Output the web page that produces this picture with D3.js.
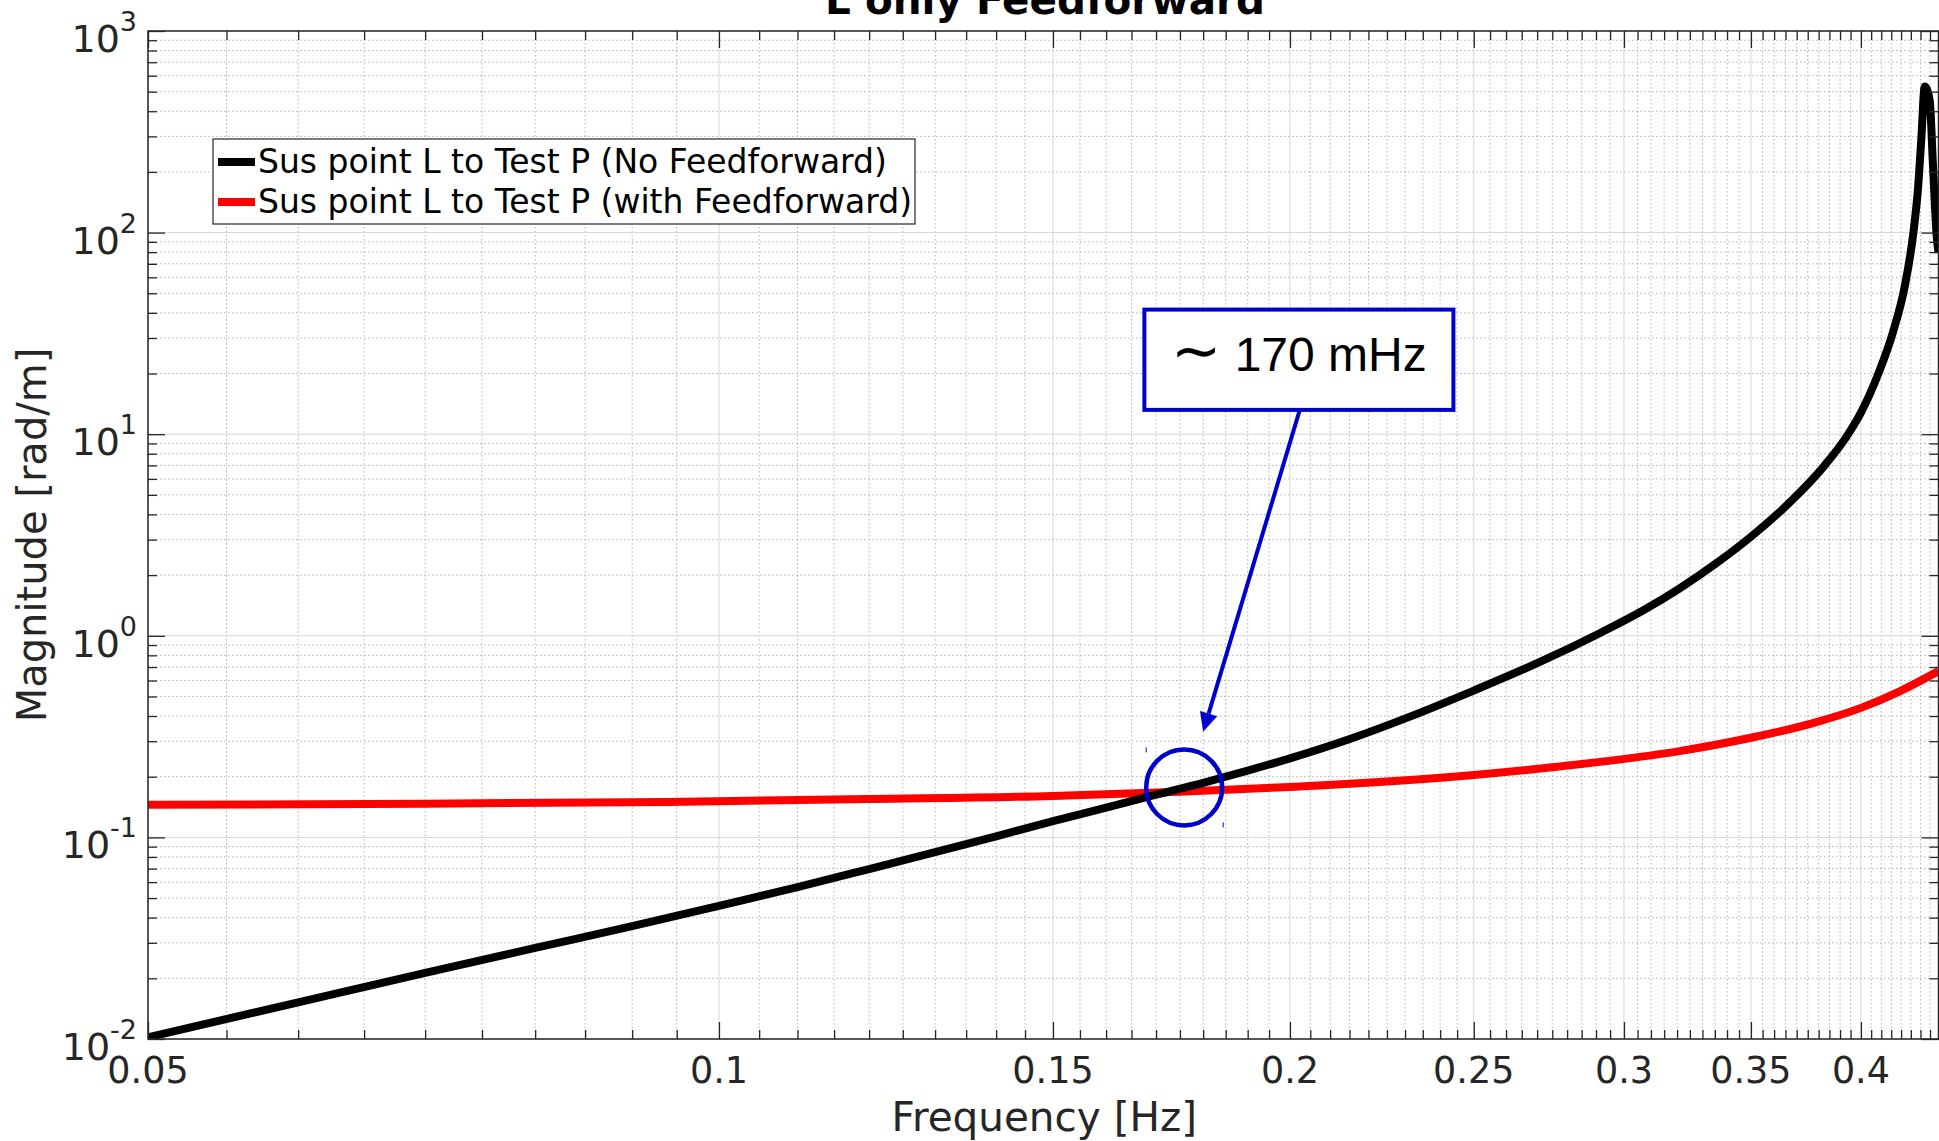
<!DOCTYPE html>
<html>
<head>
<meta charset="utf-8">
<script src="https://cdnjs.cloudflare.com/ajax/libs/d3/7.8.5/d3.min.js"></script>
<style>
body{margin:0;background:#fff;overflow:hidden}
svg{display:block;font-family:"DejaVu Sans",sans-serif}
</style>
</head>
<body>
<div id="chart"></div>
<script>
// Sus point L to Test P, no feedforward (black)
let freqNoFF = [0.05,0.06,0.07,0.08,0.09,0.1,0.11,0.12,0.13,0.14,0.15,0.16,0.17,0.18,0.19,0.2,0.216,0.231,0.25,0.27,0.292,0.307,0.321,0.336,0.35,0.367,0.382,0.393,0.4,0.409,0.416,0.422,0.426,0.4288,0.4305,0.4322,0.4348,0.4366,0.4387,0.4395];
let magNoFF = [0.0102,0.0152,0.0213,0.0283,0.0363,0.0458,0.0567,0.0697,0.0845,0.1012,0.1205,0.1405,0.1628,0.1866,0.2145,0.2465,0.312,0.395,0.535,0.731,1.042,1.335,1.72,2.31,3.1,4.6,6.85,9.7,12.8,20.5,32.4,55,95,170,300,530,455,212,92,80];
// with feedforward (red)
let freqFF = [0.05,0.07,0.094,0.12,0.15,0.175,0.2,0.25,0.281,0.321,0.35,0.377,0.4,0.419,0.4395];
let magFF = [0.145,0.147,0.150,0.155,0.1605,0.1685,0.178,0.204,0.228,0.268,0.312,0.368,0.439,0.529,0.668];

let xTickLabels = ["0.05","0.1","0.15","0.2","0.25","0.3","0.35","0.4"];
let yTickExps = [-2,-1,0,1,2,3];
let legendLabels = ["Sus point L to Test P (No Feedforward)","Sus point L to Test P (with Feedforward)"];
let legendColors = ["#000","#f00"];

let W = 1939, H = 1141;
let pL = 148, pR = 1938.5, pT = 31, pB = 1039;
let axisCol = "#262626";

let svg = d3.select("#chart").append("svg").attr("width",W).attr("height",H);

let x = d3.scaleLog().domain([0.05,0.4395]).range([pL,pR]);
let y = d3.scaleLog().domain([1e-2,1e3]).range([pB,pT]);

/* grid */
let xMinor = d3.range(11,88).map(i => i*0.005).filter(v => Math.round(v*1000)%50!=0);
let xMajor = xTickLabels.map(d => +d);
let yMajor = yTickExps.map(e => Math.pow(10,e));
let yMinor = [];
yTickExps.slice(0,-1).forEach(e => { for(let k=2;k<10;k++) yMinor.push(k*Math.pow(10,e)); });

let grid = svg.append("g");
grid.selectAll(".gxm").data(xMinor).enter().append("line")
 .attr("x1",d=>x(d)).attr("x2",d=>x(d)).attr("y1",pT).attr("y2",pB)
 .attr("stroke","#b2b2b2").attr("stroke-dasharray","1.5,2.5");
grid.selectAll(".gym").data(yMinor).enter().append("line")
 .attr("x1",pL).attr("x2",pR).attr("y1",d=>y(d)).attr("y2",d=>y(d))
 .attr("stroke","#b2b2b2").attr("stroke-dasharray","1.5,2.5");
grid.selectAll(".gxM").data(xMajor).enter().append("line")
 .attr("x1",d=>x(d)).attr("x2",d=>x(d)).attr("y1",pT).attr("y2",pB)
 .attr("stroke","#d6d6d6");
grid.selectAll(".gyM").data(yMajor).enter().append("line")
 .attr("x1",pL).attr("x2",pR).attr("y1",d=>y(d)).attr("y2",d=>y(d))
 .attr("stroke","#d6d6d6");

/* curves */
svg.append("clipPath").attr("id","clip").append("rect")
 .attr("x",pL).attr("y",pT).attr("width",pR-pL).attr("height",pB-pT);
let line = d3.line().x(d=>x(d[0])).y(d=>y(d[1])).curve(d3.curveMonotoneX);
let plot = svg.append("g").attr("clip-path","url(#clip)");
plot.append("path").datum(freqFF.map((f,i)=>[f,magFF[i]]))
 .attr("d",line).attr("fill","none").attr("stroke","#f00").attr("stroke-width",8).attr("stroke-linejoin","round");
plot.append("path").datum(freqNoFF.map((f,i)=>[f,magNoFF[i]]))
 .attr("d",line).attr("fill","none").attr("stroke","#000").attr("stroke-width",8).attr("stroke-linejoin","round");

/* axes: ticks inward on all four sides */
function styleAxis(g){
 g.select(".domain").remove();
 g.selectAll(".tick line").attr("stroke",axisCol).attr("stroke-width",1.3);
 g.selectAll("text").remove();
}
svg.append("g").attr("transform","translate(0,"+pB+")").call(d3.axisBottom(x).tickValues(xMinor).tickSize(-9)).call(styleAxis);
svg.append("g").attr("transform","translate(0,"+pB+")").call(d3.axisBottom(x).tickValues(xMajor).tickSize(-17)).call(styleAxis);
svg.append("g").attr("transform","translate(0,"+pT+")").call(d3.axisTop(x).tickValues(xMinor).tickSize(-9)).call(styleAxis);
svg.append("g").attr("transform","translate(0,"+pT+")").call(d3.axisTop(x).tickValues(xMajor).tickSize(-17)).call(styleAxis);
svg.append("g").attr("transform","translate("+pL+",0)").call(d3.axisLeft(y).tickValues(yMinor).tickSize(-9)).call(styleAxis);
svg.append("g").attr("transform","translate("+pL+",0)").call(d3.axisLeft(y).tickValues(yMajor).tickSize(-17)).call(styleAxis);
svg.append("g").attr("transform","translate("+pR+",0)").call(d3.axisRight(y).tickValues(yMinor).tickSize(-9)).call(styleAxis);
svg.append("g").attr("transform","translate("+pR+",0)").call(d3.axisRight(y).tickValues(yMajor).tickSize(-17)).call(styleAxis);

svg.append("rect").attr("x",pL).attr("y",pT).attr("width",pR-pL).attr("height",pB-pT)
 .attr("fill","none").attr("stroke",axisCol).attr("stroke-width",1.5);

// tick labels
svg.selectAll(".xl").data(xTickLabels).enter().append("text")
 .attr("x",d=>x(+d)).attr("y",pB+44).attr("text-anchor","middle")
 .attr("font-size",36.5).attr("fill",axisCol).text(d=>d);
let yl = svg.selectAll(".yl").data(yTickExps).enter().append("text")
 .attr("x",137).attr("y",d=>y(Math.pow(10,d))+21).attr("text-anchor","end").attr("fill",axisCol);
yl.append("tspan").attr("font-size",38).text("10");
yl.append("tspan").attr("font-size",27).attr("dy",-21).text(d=>d);

// axis labels + title
svg.append("text").attr("x",(pL+pR)/2+1).attr("y",1131).attr("text-anchor","middle")
 .attr("font-size",40.5).attr("fill",axisCol).text("Frequency [Hz]");
svg.append("text").attr("transform","translate(46,"+((pT+pB)/2)+") rotate(-90)")
 .attr("text-anchor","middle").attr("font-size",40).attr("fill",axisCol).text("Magnitude [rad/m]");
svg.append("text").attr("x",1045).attr("y",14).attr("text-anchor","middle")
 .attr("font-size",40.5).attr("font-weight","bold").attr("fill","#000").text("L only Feedforward");

/* legend */
let lg = svg.append("g");
lg.append("rect").attr("x",213).attr("y",139).attr("width",702).attr("height",85)
 .attr("fill","#fff").attr("stroke",axisCol).attr("stroke-width",1.2);
let rows = lg.selectAll(".row").data(legendLabels).enter().append("g")
 .attr("transform",(d,i)=>"translate(0,"+(162+i*40)+")");
rows.append("line").attr("x1",218).attr("x2",255).attr("y1",0).attr("y2",0)
 .attr("stroke",(d,i)=>legendColors[i]).attr("stroke-width",8);
rows.append("text").attr("x",258).attr("y",11).attr("font-size",33).attr("fill","#000").text(d=>d);

/* annotation */
let blue = "#0000cc";
let bx0 = x(0.1676), bx1 = x(0.2439), by0 = y(41.5), by1 = y(13.2);
svg.append("rect").attr("x",bx0).attr("y",by0).attr("width",bx1-bx0).attr("height",by1-by0)
 .attr("fill","#fff").attr("stroke",blue).attr("stroke-width",4);
let at = svg.append("text").attr("x",(bx0+bx1)/2).attr("y",by0+61).attr("text-anchor","middle").attr("fill","#000");
at.append("tspan").attr("font-family","DejaVu Sans").attr("font-size",60).text("\u223C");
at.append("tspan").attr("font-family","Liberation Sans").attr("font-size",48).text(" 170 mHz");

let ax0 = x(0.2024), ay0 = by1, ax1 = x(0.18), ay1 = y(0.334);
let ang = Math.atan2(ay1-ay0, ax1-ax0), hl = 19, hw = 9;
let bxp = ax1 - hl*Math.cos(ang), byp = ay1 - hl*Math.sin(ang);
svg.append("line").attr("x1",ax0).attr("y1",ay0).attr("x2",bxp).attr("y2",byp)
 .attr("stroke",blue).attr("stroke-width",4);
svg.append("polygon").attr("fill",blue).attr("points",[
 [ax1,ay1],
 [bxp+hw*Math.sin(ang), byp-hw*Math.cos(ang)],
 [bxp-hw*Math.sin(ang), byp+hw*Math.cos(ang)]].map(p=>p.join(",")).join(" "));

let cx = x(0.1759), cy = y(0.177);
svg.append("circle").attr("cx",cx).attr("cy",cy).attr("r",38)
 .attr("fill","none").attr("stroke",blue).attr("stroke-width",4.5);
svg.append("line").attr("x1",cx-38).attr("x2",cx-38).attr("y1",cy-40).attr("y2",cy-35).attr("stroke",blue).attr("stroke-width",1);
svg.append("line").attr("x1",cx+39).attr("x2",cx+39).attr("y1",cy+35).attr("y2",cy+40).attr("stroke",blue).attr("stroke-width",1);
</script>
</body>
</html>
